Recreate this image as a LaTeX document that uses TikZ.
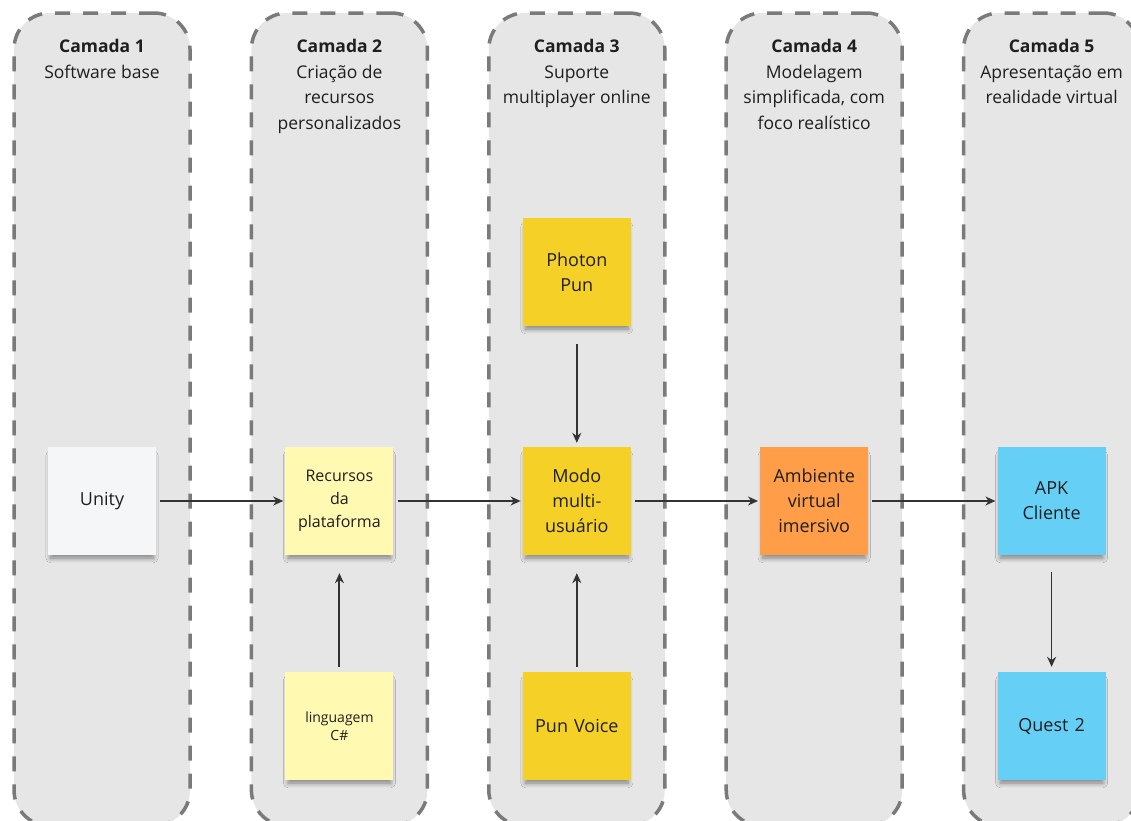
\documentclass[tikz,border=0pt]{standalone}
\usepackage{fontspec}
\setmainfont{Open Sans}
\usetikzlibrary{arrows.meta,shadows.blur}

\definecolor{lanefill}{HTML}{E6E6E6}
\definecolor{lanedash}{HTML}{7A7A7A}
\definecolor{inkdark}{HTML}{1F1F1F}
\definecolor{arrowdark}{HTML}{333333}
\definecolor{notewhite}{HTML}{F5F6F8}
\definecolor{notelight}{HTML}{FFF9B1}
\definecolor{noteyellow}{HTML}{F5D128}
\definecolor{noteorange}{HTML}{FF9D48}
\definecolor{noteblue}{HTML}{66CFF6}

\tikzset{
  lane/.style={draw=lanedash, fill=lanefill, line width=3.5pt,
    dash pattern=on 15pt off 13pt, rounded corners=36pt,
    minimum width=176pt, minimum height=813pt, inner sep=0pt},
  laneTitle/.style={anchor=north, align=center, inner sep=0pt, text=inkdark,
    font=\fontsize{17.5}{25.5}\selectfont},
  note/.style={minimum width=108pt, minimum height=108pt, inner sep=0pt,
    text width=104pt, align=center, text=inkdark,
    font=\fontsize{18}{25}\selectfont,
    blur shadow={shadow xshift=0pt, shadow yshift=-6pt, shadow scale=0.95,
      shadow opacity=45, shadow blur radius=5pt, shadow blur steps=8}},
}

\begin{document}
\begin{tikzpicture}[x=1pt, y=-1pt, >={Stealth[length=10pt, width=9pt]}]
\fill[white] (0,0) rectangle (1131,820);
\useasboundingbox (0,0) rectangle (1131,820);

% Lanes
\path (102,419.5)
node[lane] (lane1) {}
(lane1) +(237.4,0) node[lane] (lane2) {}
(lane2) +(237.4,0) node[lane] (lane3) {}
(lane3) +(237.4,0) node[lane] (lane4) {}
(lane4) +(237.4,0) node[lane] (lane5) {}
;

\path
(lane1.north) +(0,28) node[laneTitle] (title1) {\textbf{Camada 1}\\Software base}
(lane2.north) +(0,28) node[laneTitle] (title2) {\textbf{Camada 2}\\Criação de\\recursos\\personalizados}
(lane3.north) +(0,28) node[laneTitle] (title3) {\textbf{Camada 3}\\Suporte\\multiplayer online}
(lane4.north) +(0,28) node[laneTitle] (title4) {\textbf{Camada 4}\\Modelagem\\simplificada, com\\foco realístico}
(lane5.north) +(0,28) node[laneTitle] (title5) {\textbf{Camada 5}\\Apresentação em\\realidade virtual}
;

% Notes
\path (102,501)
node[note, fill=notewhite] (unity) {Unity}
(unity) +(237.4,0) node[note, fill=notelight, font=\fontsize{16}{23}\selectfont] (recursos) {Recursos\\da\\plataforma}
(recursos) +(0,225) node[note, fill=notelight, font=\fontsize{14}{18}\selectfont] (csharp) {linguagem\\C\#}
(recursos) +(237.4,0) node[note, fill=noteyellow] (modo) {Modo\\multi-\\usuário}
(modo) +(0,-229) node[note, fill=noteyellow] (photon) {Photon\\Pun}
(modo) +(0,225) node[note, fill=noteyellow] (voice) {Pun Voice}
(modo) +(237.4,0) node[note, fill=noteorange] (ambiente) {Ambiente\\virtual\\imersivo}
(ambiente) +(237.4,0) node[note, fill=noteblue] (apk) {APK\\Cliente}
(apk) +(0,225) node[note, fill=noteblue] (quest) {Quest 2}
;

% Connectors
\draw[->, draw=arrowdark, line width=2.3pt, shorten <=4pt, shorten >=2pt]
(unity) -- (recursos);
\draw[->, draw=arrowdark, line width=2.3pt, shorten <=4pt, shorten >=2pt]
(recursos) -- (modo);
\draw[->, draw=arrowdark, line width=2.3pt, shorten <=4pt, shorten >=2pt]
(modo) -- (ambiente);
\draw[->, draw=arrowdark, line width=2.3pt, shorten <=4pt, shorten >=2pt]
(ambiente) -- (apk);

\draw[->, draw=arrowdark, line width=1.6pt, shorten <=18pt, shorten >=4pt]
(photon) -- (modo);
\draw[->, draw=arrowdark, line width=2pt, shorten <=5pt, shorten >=18pt]
(csharp) -- (recursos);
\draw[->, draw=arrowdark, line width=1.6pt, shorten <=5pt, shorten >=18pt]
(voice) -- (modo);
\draw[->, draw=arrowdark, line width=1.6pt, shorten <=17pt, shorten >=5pt]
(apk) -- (quest);

\end{tikzpicture}
\end{document}
